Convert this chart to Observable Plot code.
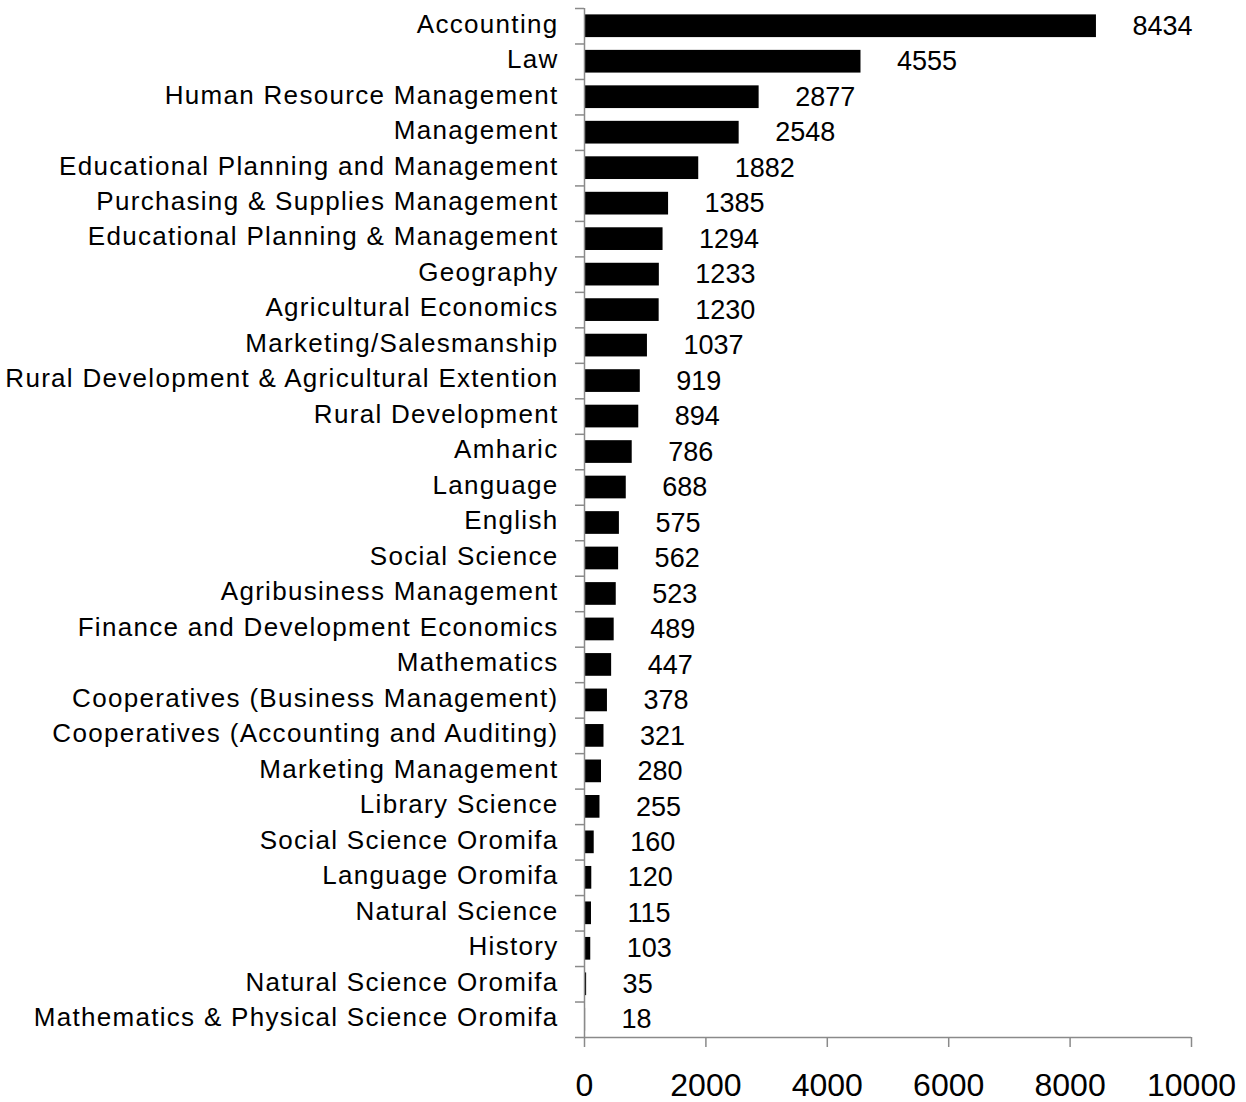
<!DOCTYPE html>
<html>
<head>
<meta charset="utf-8">
<script src="https://cdn.jsdelivr.net/npm/d3@7"></script>
<script src="https://cdn.jsdelivr.net/npm/@observablehq/plot@0.6"></script>
<style>
  html, body { margin: 0; padding: 0; background: #fff; }
  #chart svg { display: block; }
</style>
</head>
<body>
<div id="chart"></div>
<script>
const categories = [
  "Accounting",
  "Law",
  "Human Resource Management",
  "Management",
  "Educational Planning and Management",
  "Purchasing & Supplies Management",
  "Educational Planning & Management",
  "Geography",
  "Agricultural Economics",
  "Marketing/Salesmanship",
  "Rural Development & Agricultural Extention",
  "Rural Development",
  "Amharic",
  "Language",
  "English",
  "Social Science",
  "Agribusiness Management",
  "Finance and Development Economics",
  "Mathematics",
  "Cooperatives (Business Management)",
  "Cooperatives (Accounting and Auditing)",
  "Marketing Management",
  "Library Science",
  "Social Science Oromifa",
  "Language Oromifa",
  "Natural Science",
  "History",
  "Natural Science Oromifa",
  "Mathematics & Physical Science Oromifa"
];
const values = [8434, 4555, 2877, 2548, 1882, 1385, 1294, 1233, 1230, 1037, 919, 894, 786, 688, 575, 562, 523, 489, 447, 378, 321, 280, 255, 160, 120, 115, 103, 35, 18];
const xTicks = [0, 2000, 4000, 6000, 8000, 10000];

const data = categories.map((c, i) => ({category: c, value: values[i]}));

const W = 1246, H = 1102;
const mTop = 8, mBottom = 65, mLeft = 584, mRight = 55;
const step = (H - mTop - mBottom) / categories.length;
const barInset = step * 0.18;
const grey = "#8a8a8a";
const font = "'Liberation Sans', Arial, sans-serif";

const chart = Plot.plot({
  width: W,
  height: H,
  marginTop: mTop,
  marginBottom: mBottom,
  marginLeft: mLeft,
  marginRight: mRight,
  style: {fontFamily: font, color: "#000", background: "#fff"},
  x: {domain: [0, 10000], range: [mLeft, W - mRight]},
  y: {domain: categories, range: [mTop, H - mBottom], padding: 0, round: false},
  marks: [
    Plot.barX(data, {x: "value", y: "category", fill: "#000", insetTop: barInset, insetBottom: barInset}),
    Plot.ruleX([0], {stroke: grey, strokeWidth: 1.5}),
    Plot.tickY([categories[categories.length - 1]], {y: d => d, dy: step / 2, stroke: grey, strokeWidth: 1.5, insetLeft: -9}),
    Plot.axisY({tickSize: 9, text: null, dy: -step / 2, stroke: grey, strokeWidth: 1.5, label: null}),
    Plot.axisY({tickSize: 0, tickPadding: 26, fontSize: 26, label: null, dy: -2}),
    Plot.axisX({ticks: xTicks, tickSize: 10, tickPadding: 26, stroke: grey, strokeWidth: 1.5,
      fontSize: 32, label: null, tickFormat: d => String(d)}),
    Plot.text(data, {x: "value", y: "category", text: d => String(d.value),
      dx: 36, dy: 0, textAnchor: "start", fontSize: 27, fill: "#000"})
  ]
});

d3.select(chart).selectAll("g[aria-label='y-axis tick label'] text")
  .style("letter-spacing", "1.3px");

document.getElementById("chart").appendChild(chart);
</script>
</body>
</html>
